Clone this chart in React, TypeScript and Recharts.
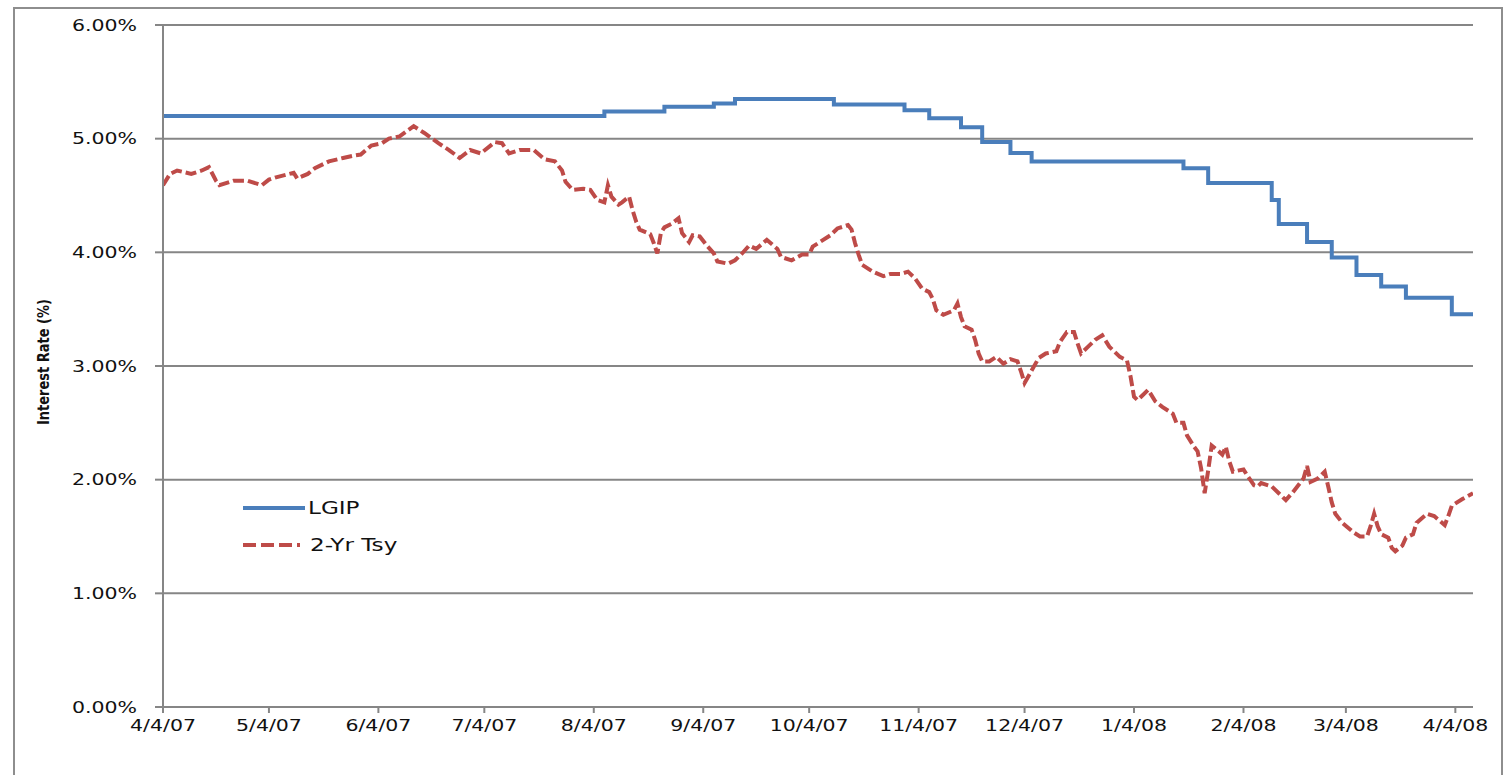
import React from 'react';
import { LineChart, Line, XAxis, YAxis, CartesianGrid, Legend } from 'recharts';

// Days counted from 4/4/07
const X_TICK_DAYS = [0, 30, 61, 91, 122, 153, 183, 214, 244, 275, 306, 335, 366];
const X_TICK_LABELS = ['4/4/07', '5/4/07', '6/4/07', '7/4/07', '8/4/07', '9/4/07', '10/4/07', '11/4/07', '12/4/07', '1/4/08', '2/4/08', '3/4/08', '4/4/08'];
const Y_TICKS = [0, 1, 2, 3, 4, 5, 6];

const LGIP_DAYS = [0, 125, 142, 156, 162, 190, 210, 217, 226, 232, 240, 246, 289, 296, 314, 316, 324, 331, 338, 345, 352, 365, 371];
const LGIP_RATES = [5.2, 5.24, 5.28, 5.31, 5.35, 5.3, 5.25, 5.18, 5.1, 4.97, 4.875, 4.8, 4.74, 4.61, 4.46, 4.25, 4.09, 3.955, 3.8, 3.7, 3.6, 3.455, 3.455];

const TSY_DAYS = [0, 2, 4, 8, 11, 13, 15, 16, 20, 24, 28, 30, 32, 37, 38, 41, 43, 47, 51, 54, 56, 59, 62, 64, 67, 71, 74, 78, 81, 84, 87, 90, 94, 96, 98, 101, 105, 108, 111, 113, 114, 116, 119, 121, 123, 125, 126, 127, 129, 130, 132, 133, 134, 135, 138, 139, 140, 141, 142, 144, 146, 147, 149, 150, 152, 154, 156, 157, 160, 162, 164, 166, 168, 171, 174, 175, 178, 181, 183, 184, 186, 189, 191, 194, 195, 196, 197, 198, 201, 204, 206, 209, 211, 213, 215, 217, 218, 219, 221, 224, 225, 226, 227, 229, 230, 231, 232, 234, 236, 238, 240, 242, 243, 244, 246, 248, 250, 253, 254, 256, 258, 259, 260, 262, 264, 266, 268, 271, 273, 274, 275, 276, 277, 279, 281, 283, 286, 287, 289, 290, 292, 293, 294, 295, 296, 297, 299, 300, 301, 302, 303, 306, 307, 309, 310, 311, 314, 316, 318, 320, 323, 324, 325, 327, 329, 330, 331, 332, 334, 337, 339, 341, 342, 343, 344, 345, 347, 348, 349, 351, 352, 354, 355, 358, 360, 363, 364, 365, 368, 371];
const TSY_RATES = [4.59, 4.69, 4.72, 4.69, 4.72, 4.75, 4.63, 4.59, 4.63, 4.63, 4.59, 4.64, 4.66, 4.7, 4.65, 4.69, 4.74, 4.8, 4.83, 4.85, 4.86, 4.94, 4.96, 5.0, 5.02, 5.11, 5.05, 4.96, 4.9, 4.83, 4.9, 4.87, 4.97, 4.96, 4.87, 4.9, 4.9, 4.82, 4.8, 4.72, 4.62, 4.55, 4.56, 4.55, 4.46, 4.44, 4.59, 4.49, 4.42, 4.44, 4.49, 4.37, 4.27, 4.2, 4.16, 4.08, 3.99, 4.17, 4.22, 4.25, 4.3, 4.17, 4.09, 4.15, 4.14, 4.06, 3.99, 3.92, 3.9, 3.93, 3.99, 4.06, 4.03, 4.11, 4.03, 3.96, 3.93, 3.98, 3.98, 4.05, 4.09, 4.15, 4.21, 4.24, 4.2, 4.08, 3.98, 3.89, 3.83, 3.79, 3.81, 3.81, 3.83, 3.77, 3.68, 3.65, 3.59, 3.49, 3.45, 3.49, 3.55, 3.43, 3.35, 3.32, 3.23, 3.11, 3.04, 3.04, 3.08, 3.02, 3.06, 3.04, 2.95, 2.85, 2.96, 3.07, 3.11, 3.13, 3.21, 3.3, 3.3, 3.2, 3.11, 3.17, 3.23, 3.27, 3.17, 3.08, 3.05, 2.91, 2.73, 2.7, 2.73, 2.79, 2.69, 2.64, 2.58, 2.5, 2.5, 2.39, 2.29, 2.25, 2.1, 1.88, 2.08, 2.3, 2.25, 2.22, 2.29, 2.16, 2.07, 2.09, 2.04, 1.95, 1.94, 1.97, 1.94, 1.88, 1.82, 1.89, 2.01, 2.12, 1.98, 2.01, 2.07, 1.94, 1.8, 1.7, 1.62, 1.54, 1.5, 1.5, 1.59, 1.7, 1.59, 1.52, 1.49, 1.4, 1.37, 1.42, 1.49, 1.52, 1.62, 1.7, 1.68, 1.6, 1.68, 1.77, 1.83, 1.88];

const lgipData = LGIP_DAYS.map((d, i) => ({ day: d, rate: LGIP_RATES[i] }));
const tsyData = TSY_DAYS.map((d, i) => ({ day: d, rate: TSY_RATES[i] }));

const BLUE = '#4A7EBB';
const RED = '#BE4B48';
const GRID = '#868686';
const FONT = '"DejaVu Sans", Verdana, sans-serif';
const SX = 1.28;

const SERIES = [
  { name: 'LGIP', color: BLUE, dash: undefined as string | undefined, len: 62 },
  { name: '2-Yr Tsy', color: RED, dash: '13 5', len: 57 },
];

const YTick = (props: any) => {
  const { x, y, payload } = props;
  return (
    <text transform={`translate(${x},${y}) scale(${SX},1)`} textAnchor="end" dy="0.36em" fontFamily={FONT} fontSize={16} fill="#111">
      {`${Number(payload.value).toFixed(2)}%`}
    </text>
  );
};

const XTick = (props: any) => {
  const { x, y, payload } = props;
  const idx = X_TICK_DAYS.indexOf(payload.value);
  return (
    <text transform={`translate(${x},${y}) scale(${SX},1)`} textAnchor="middle" dy="0.75em" fontFamily={FONT} fontSize={16} fill="#111">
      {X_TICK_LABELS[idx]}
    </text>
  );
};

const LegendContent = () => (
  <div style={{ fontFamily: FONT, fontSize: 17, color: '#111' }}>
    {SERIES.map((s) => (
      <div key={s.name} style={{ display: 'flex', alignItems: 'center', height: 37 }}>
        <svg width={64} height={10} style={{ display: 'block' }}>
          <line x1={0} y1={5} x2={s.len} y2={5} stroke={s.color} strokeWidth={4} strokeDasharray={s.dash} />
        </svg>
        <span style={{ display: 'inline-block', transform: `scaleX(1.36)`, transformOrigin: 'left center', marginLeft: s.dash ? 3 : 1 }}>{s.name}</span>
      </div>
    ))}
  </div>
);

const YTitle = (props: any) => {
  const vb = props.viewBox || { x: 0, y: 0, width: 0, height: 0 };
  const cx = vb.x + 43;
  const cy = vb.y + vb.height / 2 - 4;
  return (
    <text transform={`translate(${cx},${cy}) rotate(-90) scale(1,1.25)`} textAnchor="middle" dy="0.36em" fontFamily={FONT} fontSize={13} fontWeight="bold" fill="#111">
      Interest Rate (%)
    </text>
  );
};

export default function App() {
  return (
    <div style={{ position: 'fixed', left: 0, top: 0, width: 1505, height: 775, overflow: 'hidden', background: '#fff' }}>
      <div style={{ position: 'absolute', left: 13, top: 7, width: 1490, height: 800, border: '2px solid #8e8e8e', boxSizing: 'border-box' }} />
      <div style={{ position: 'absolute', left: 0, top: 0 }}>
        <LineChart width={1505} height={775} margin={{ top: 25, right: 32, left: 0, bottom: 28 }}>
          <CartesianGrid vertical={false} stroke={GRID} strokeWidth={2} />
          <XAxis
            type="number"
            dataKey="day"
            domain={[0, 371]}
            ticks={X_TICK_DAYS}
            interval={0}
            height={40}
            tickSize={6}
            tickMargin={6}
            tick={<XTick />}
            axisLine={{ stroke: GRID, strokeWidth: 2 }}
            tickLine={{ stroke: GRID, strokeWidth: 2 }}
            allowDataOverflow
          />
          <YAxis
            type="number"
            domain={[0, 6]}
            ticks={Y_TICKS}
            interval={0}
            width={163}
            tickSize={8}
            tickMargin={18}
            tick={<YTick />}
            axisLine={{ stroke: GRID, strokeWidth: 2 }}
            tickLine={{ stroke: GRID, strokeWidth: 2 }}
            label={{ content: <YTitle /> }}
          />
          <Legend
            layout="vertical"
            align="center"
            verticalAlign="middle"
            wrapperStyle={{ left: 243, top: 489, width: 220 }}
            content={<LegendContent />}
          />
          <Line data={lgipData} dataKey="rate" name="LGIP" type="stepAfter" stroke={BLUE} strokeWidth={4} dot={false} activeDot={false} isAnimationActive={false} />
          <Line data={tsyData} dataKey="rate" name="2-Yr Tsy" type="linear" stroke={RED} strokeWidth={4} strokeDasharray="11 4" dot={false} activeDot={false} isAnimationActive={false} />
        </LineChart>
      </div>
    </div>
  );
}
